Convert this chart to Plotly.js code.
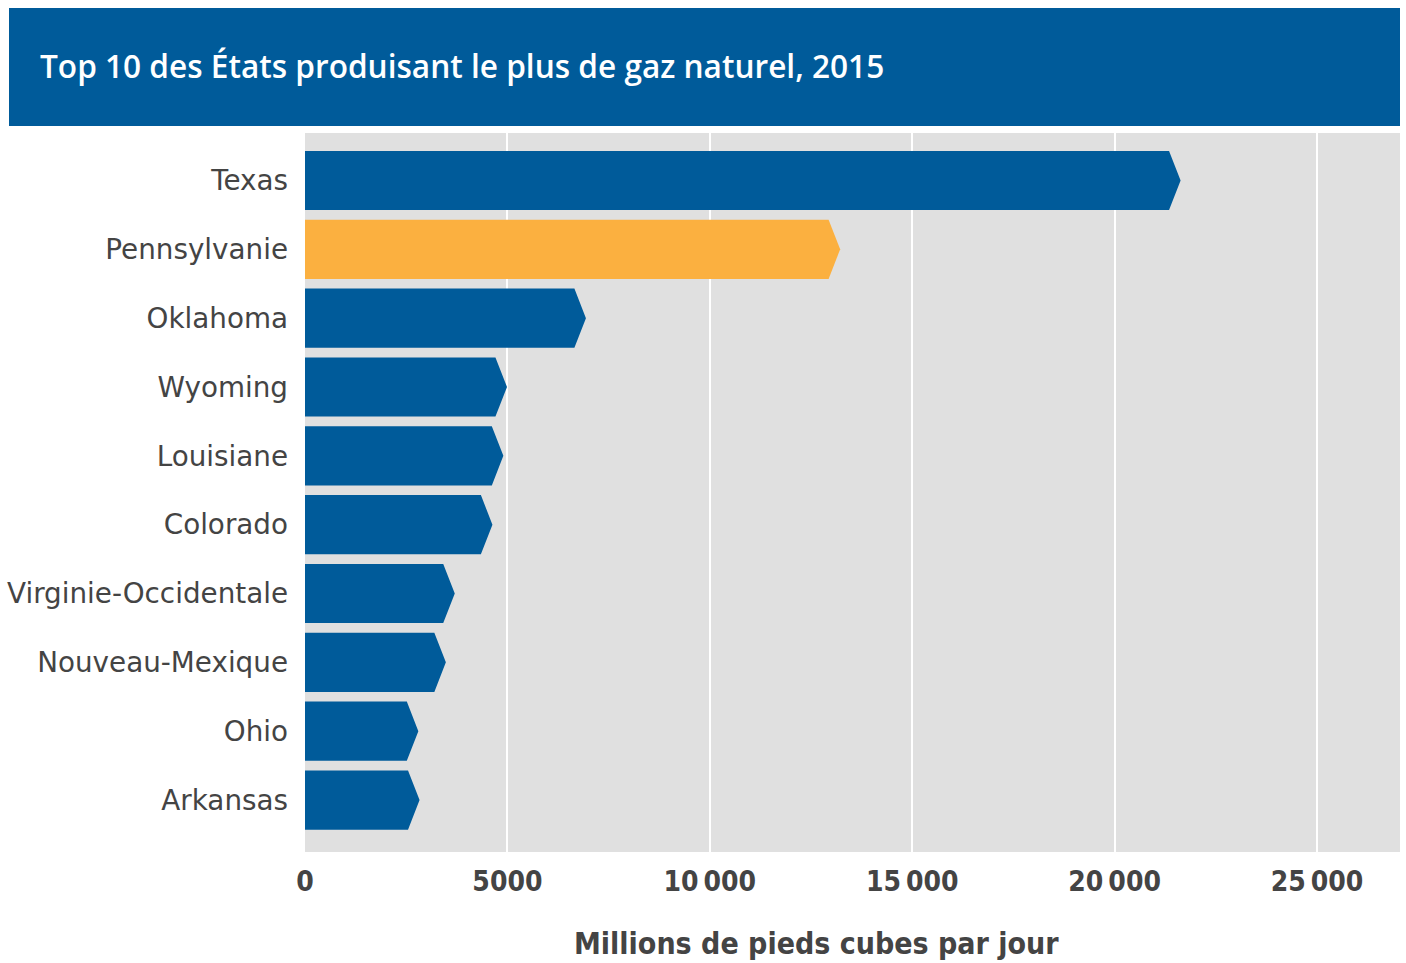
<!DOCTYPE html>
<html>
<head>
<meta charset="utf-8">
<script src="https://cdn.plot.ly/plotly-3.0.1.min.js"></script>
<style>
html,body{margin:0;padding:0;background:#fff;}
#chart{width:1406px;height:963px;}
</style>
</head>
<body>
<div id="chart"></div>
<script>
// ---- data ----
const states = ["Texas","Pennsylvanie","Oklahoma","Wyoming","Louisiane","Colorado","Virginie-Occidentale","Nouveau-Mexique","Ohio","Arkansas"];
const production = [21630, 13220, 6940, 4990, 4900, 4630, 3700, 3480, 2800, 2830];
const highlight = "Pennsylvanie";
const xTickVals = [0, 5000, 10000, 15000, 20000, 25000];
const xTickText = ["0", "5000", "10\u2009000", "15\u2009000", "20\u2009000", "25\u2009000"];
const titleText = "Top 10 des États produisant le plus de gaz naturel, 2015";
const axisTitle = "Millions de pieds cubes par jour";

// ---- styling ----
const BLUE = "#005b9a", ORANGE = "#fbb040", GRID_BG = "#e0e0e0", TXT = "#444444";
const halfH = 0.43;   // half bar thickness, in category units
const tip = 285;      // arrow tip length, in data units

function arrows(filter) {
  const xs = [], ys = [];
  states.forEach((s, i) => {
    if (!filter(s)) return;
    const v = production[i];
    xs.push(0, v - tip, v, v - tip, 0, 0, null);
    ys.push(i - halfH, i - halfH, i, i + halfH, i + halfH, i - halfH, null);
  });
  return {xs, ys};
}
const blue = arrows(s => s !== highlight);
const orange = arrows(s => s === highlight);

const traces = [
  {type: "scatter", mode: "lines", x: blue.xs, y: blue.ys, fill: "toself",
   fillcolor: BLUE, line: {width: 0, color: BLUE}, hoverinfo: "skip", showlegend: false},
  {type: "scatter", mode: "lines", x: orange.xs, y: orange.ys, fill: "toself",
   fillcolor: ORANGE, line: {width: 0, color: ORANGE}, hoverinfo: "skip", showlegend: false},
  {type: "scatter", mode: "markers", x: production, y: states.map((s, i) => i),
   marker: {size: 1, opacity: 0}, text: states,
   hovertemplate: "%{text}: %{x}<extra></extra>", showlegend: false}
];

const W = 1406, H = 963;
const mL = 305, mR = 6, mT = 133, mB = 111;
const plotW = W - mL - mR, plotH = H - mT - mB;
const px2paperX = px => (px - mL) / plotW;
const px2paperY = py => (H - mB - py) / plotH;

const layout = {
  width: W, height: H,
  margin: {l: mL, r: mR, t: mT, b: mB, pad: 0},
  paper_bgcolor: "#ffffff",
  plot_bgcolor: GRID_BG,
  showlegend: false,
  xaxis: {
    range: [0, 27050], fixedrange: true,
    tickvals: xTickVals, ticktext: xTickText,
    showgrid: true, gridcolor: "#ffffff", gridwidth: 2,
    zeroline: false, showline: false, ticks: "",
    ticklabelstandoff: 10,
    tickfont: {family: "DejaVu Sans Condensed, DejaVu Sans", size: 28, color: TXT, weight: "bold"}
  },
  yaxis: {
    range: [9.755, -0.69], fixedrange: true,
    tickvals: states.map((s, i) => i), ticktext: states,
    showgrid: false, zeroline: false, showline: false, ticks: "",
    ticklabelstandoff: 16,
    tickfont: {family: "DejaVu Sans, sans-serif", size: 27.8, color: TXT}
  },
  title: {
    text: titleText,
    xref: "container", x: 40 / W, xanchor: "left",
    yref: "container", y: 1 - 67 / H, yanchor: "middle",
    font: {family: "Open Sans, Lato, sans-serif", size: 31.6, color: "#ffffff", weight: 600}
  },
  shapes: [{
    type: "rect", xref: "paper", yref: "paper", layer: "below",
    x0: px2paperX(9), x1: px2paperX(1400), y0: px2paperY(126), y1: px2paperY(8),
    fillcolor: BLUE, line: {width: 0}
  }],
  annotations: [{
    text: axisTitle, showarrow: false,
    xref: "paper", yref: "paper",
    x: px2paperX(816), xanchor: "center",
    y: px2paperY(943), yanchor: "middle",
    font: {family: "DejaVu Sans Condensed, DejaVu Sans", size: 30, color: TXT, weight: "bold"}
  }]
};

Plotly.newPlot("chart", traces, layout, {displayModeBar: false, responsive: false});
</script>
</body>
</html>
